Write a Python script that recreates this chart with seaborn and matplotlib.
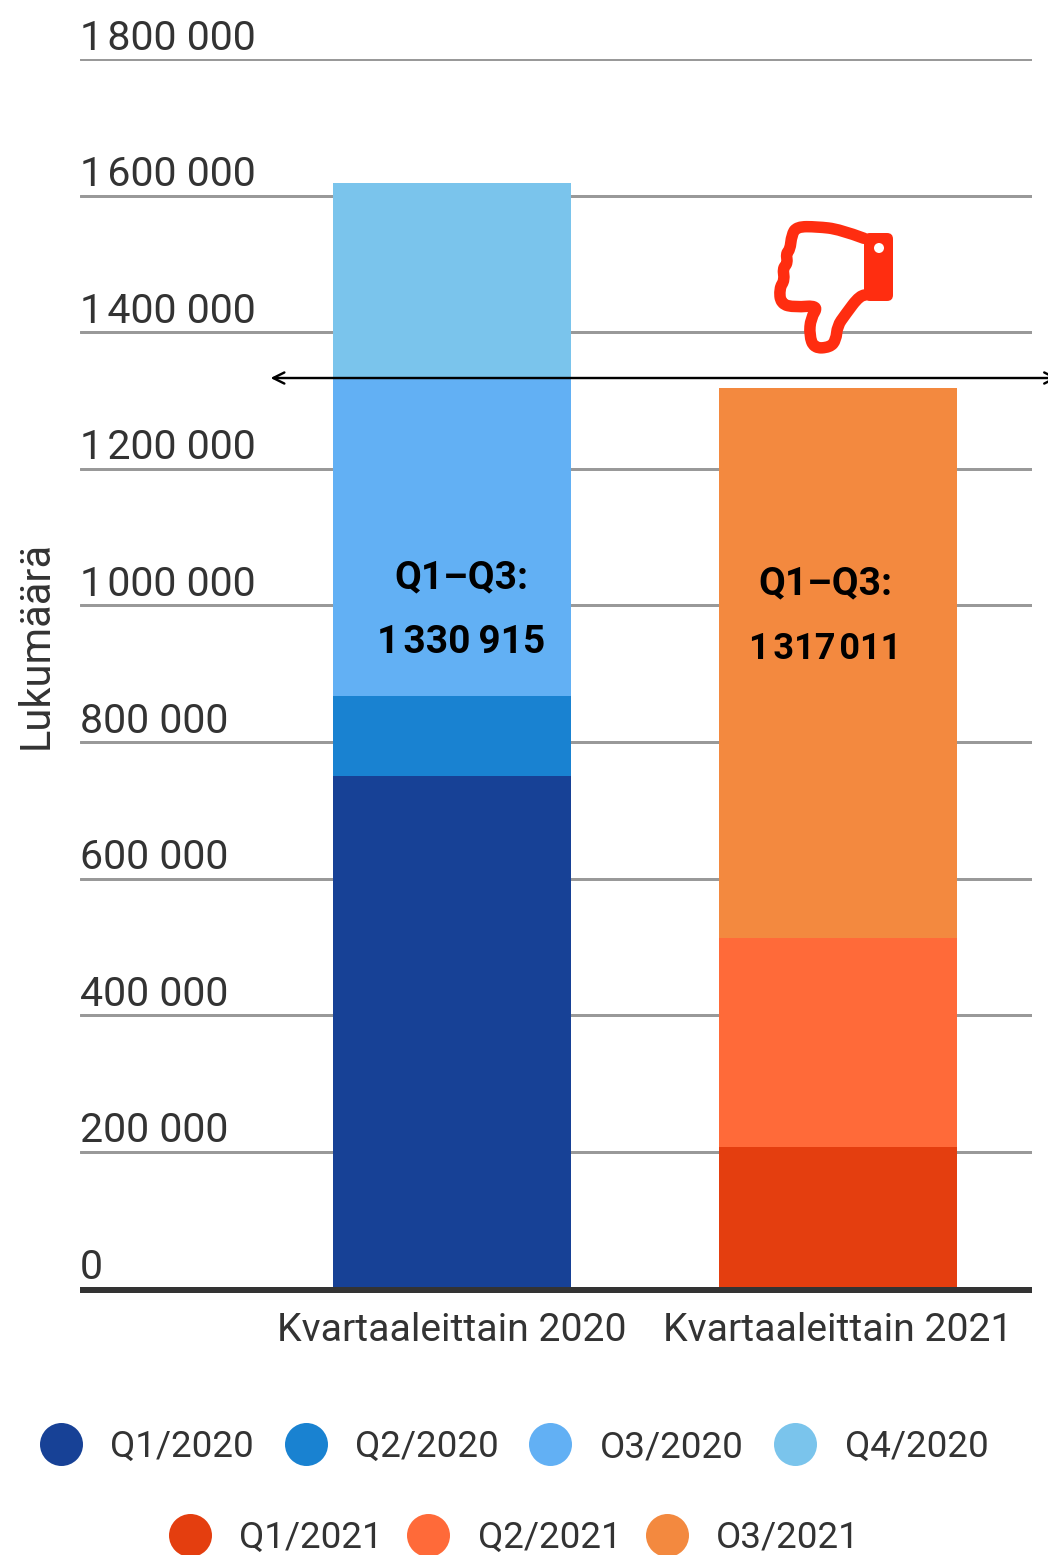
import pandas as pd
import seaborn as sns
import matplotlib.pyplot as plt
from matplotlib.lines import Line2D
from matplotlib.patches import Circle, FancyBboxPatch, PathPatch
from matplotlib.path import Path
from matplotlib.transforms import Affine2D, ScaledTranslation

periods = ["Kvartaaleittain 2020", "Kvartaaleittain 2021"]
quarters_2020 = ["Q1/2020", "Q2/2020", "O3/2020", "Q4/2020"]
quarters_2021 = ["Q1/2021", "Q2/2021", "O3/2021"]
values_2020 = [750500, 117100, 463315, 288000]
values_2021 = [207000, 306000, 805500]
colors_2020 = ["#174196", "#1982d1", "#62b0f4", "#7ac4ec"]
colors_2021 = ["#e43e0f", "#ff6a39", "#f3893f"]
y_ticks = [0, 200000, 400000, 600000, 800000, 1000000, 1200000, 1400000, 1600000, 1800000]
y_tick_labels = ["0", "200 000", "400 000", "600 000", "800 000", "1\u200a000 000",
                 "1\u200a200 000", "1\u200a400 000", "1\u200a600 000", "1\u200a800 000"]
arrow_level = 1333000

W, H = 1048, 1555
FONT = "Roboto"
TEXT = "#333333"
px = 72 / 100  # points per pixel at dpi 100

sns.set_theme(style="white")
plt.rcParams["font.family"] = [FONT, "DejaVu Sans"]

# cumulative heights, tallest drawn first so the stack shows through
df = pd.DataFrame({
    "period": [periods[0]] * 4 + [periods[1]] * 3,
    "quarter": quarters_2020 + quarters_2021,
    "value": values_2020 + values_2021,
})
df["top"] = df.groupby("period")["value"].cumsum()
palette = dict(zip(quarters_2020 + quarters_2021, colors_2020 + colors_2021))
draw_order = quarters_2020[::-1] + quarters_2021[::-1]

fig = plt.figure(figsize=(W / 100, H / 100), dpi=100)
ax = fig.add_axes([80 / W, 1 - 1288.6 / H, 952 / W, (1288.6 - 59) / H])

sns.barplot(data=df, x="period", y="top", hue="quarter", hue_order=draw_order,
            order=periods, palette=palette, dodge=False, width=238 / 386,
            saturation=1, legend=False, ax=ax, zorder=3, linewidth=0)

ax.set_xlim(-372 / 386, 580 / 386)
ax.set_ylim(0, 1800000)
ax.set_xlabel("")
ax.set_ylabel("")
fig.text(36 / W, 1 - 645 / H, "Lukumäärä", rotation=90, ha="center", va="center",
         fontsize=30, color=TEXT)

# gridlines
ax.yaxis.grid(True, color="#999999", linewidth=3 * px, zorder=0)
ax.set_axisbelow(True)
for s in ["top", "left", "right"]:
    ax.spines[s].set_visible(False)
ax.spines["bottom"].set_color(TEXT)
ax.spines["bottom"].set_linewidth(6 * px)
ax.spines["bottom"].set_position(("outward", 1.4 * px))
ax.spines["bottom"].set_zorder(5)
ax.spines["bottom"].set_capstyle("butt")

# y labels sit on top of the gridlines, left aligned
ax.set_yticks(y_ticks)
ax.set_yticklabels(y_tick_labels, fontsize=29.6, color=TEXT)
ax.tick_params(axis="y", length=0, pad=0)
shift = ScaledTranslation(0, 1.5 / 100, fig.dpi_scale_trans)
for lab in ax.get_yticklabels():
    lab.set_ha("left")
    lab.set_va("bottom")
    lab.set_transform(lab.get_transform() + shift)

ax.tick_params(axis="x", length=0, pad=15.5)
ax.set_xticks([0, 1])
ax.set_xticklabels(periods, fontsize=28.2, color=TEXT)

# Q1-Q3 totals
ax.text(0.023, 1040000, "Q1–Q3:", ha="center", va="center", fontsize=28,
        fontweight="bold", color="black", zorder=6)
ax.text(0.023, 945500, "1\u200a330\u2009915", ha="center", va="center", fontsize=28,
        fontweight="bold", color="black", zorder=6)
ax.text(0.966, 1031000, "Q1–Q3:", ha="center", va="center", fontsize=28,
        fontweight="bold", color="black", zorder=6)
ax.text(0.966, 937000, "1\u200a317\u200a011", ha="center", va="center", fontsize=26,
        fontweight="bold", color="black", zorder=6)

# comparison arrow at the 2020 Q1-Q3 level
ax.annotate("", xy=(-0.47, arrow_level), xytext=(1.57, arrow_level),
            arrowprops=dict(arrowstyle="<->", color="black", lw=2.4 * px,
                            mutation_scale=20, shrinkA=0, shrinkB=0),
            annotation_clip=False, zorder=7)

# thumbs down icon, in pixel coordinates of the picture
to_px = Affine2D().scale(1, -1).translate(0, H)
RED = "#ff2d10"
hand = [(372, 115), (300, 88), (230, 80), (170, 80), (155, 105), (150, 150), (138, 160),
        (143, 190), (128, 205), (134, 240), (118, 265), (122, 312), (165, 322), (236, 316),
        (212, 355), (208, 405), (222, 445), (270, 442), (288, 420), (292, 378), (315, 345),
        (360, 285), (390, 285)]
pts = [(740 + x / 3, 200 + y / 3) for x, y in hand]
verts = [pts[0]]
codes = [Path.MOVETO]
for a, b in zip(pts[1:-1], pts[2:]):
    verts += [a, ((a[0] + b[0]) / 2, (a[1] + b[1]) / 2)]
    codes += [Path.CURVE3, Path.CURVE3]
fig.add_artist(PathPatch(Path(verts, codes), facecolor="white", edgecolor=RED,
                         linewidth=11.5 * px, capstyle="round", joinstyle="round",
                         transform=to_px))
fig.add_artist(FancyBboxPatch((864, 233), 29, 68, boxstyle="round,pad=0,rounding_size=6",
                              facecolor=RED, edgecolor="none", transform=to_px))
fig.add_artist(Circle((879, 248), 5, facecolor="white", edgecolor="none", transform=to_px))

# legend in two centred rows
def make_legend(labels, colors, y, gap):
    handles = [Line2D([], [], linestyle="none", marker="o", markersize=43 * px,
                      markerfacecolor=c, markeredgecolor="none") for c in colors]
    fs = 26.5
    fs_px = fs / px
    fig.legend(handles, labels, loc="center", bbox_to_anchor=(514 / W, 1 - y / H),
               ncol=len(labels), frameon=False, fontsize=fs, labelcolor=TEXT,
               handlelength=43 / fs_px, handletextpad=28 / fs_px,
               columnspacing=gap / fs_px, borderpad=0, borderaxespad=0)

make_legend(quarters_2020, colors_2020, 1447, 30)
make_legend(quarters_2021, colors_2021, 1538, 24)

fig.savefig("out.png", dpi=100)
